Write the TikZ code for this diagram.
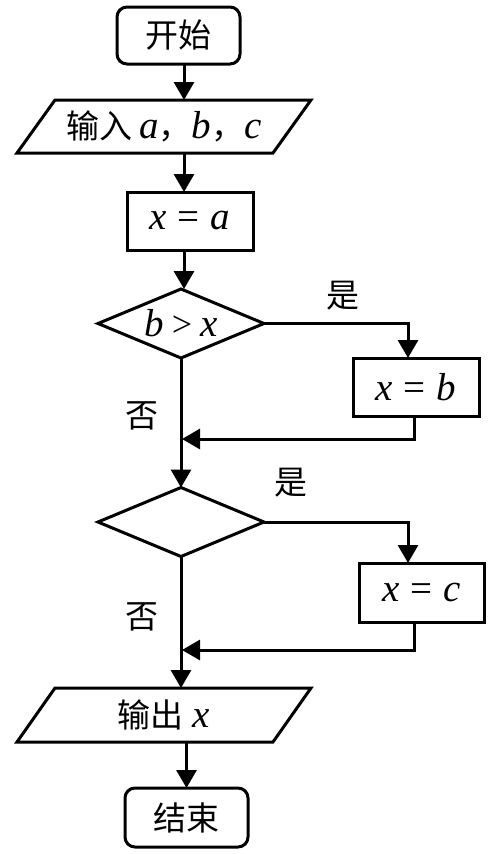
\documentclass[tikz,border=0pt]{standalone}
\usepackage{fontspec}
\setmainfont{Liberation Serif}
\newfontfamily\cjk{Noto Sans CJK SC}
\usetikzlibrary{arrows.meta}
\newcommand{\zhf}{\cjk\fontsize{33}{38}\selectfont}
\newcommand{\ltf}{\fontsize{39}{44}\selectfont}
\newcommand{\gp}{\hspace{11pt}}
\tikzset{
  base/.style={inner sep=0pt,outer sep=0pt,line width=3pt,font=\ltf},
  term/.style={base,draw,rounded corners=10pt,minimum width=123pt,minimum height=57pt},
  proc/.style={base,draw,minimum width=126pt,minimum height=58pt},
  io/.style={base,minimum width=294pt,minimum height=53pt},
  dec/.style={base,minimum width=166pt,minimum height=69pt},
  lbl/.style={inner sep=0pt,font=\zhf},
  arr/.style={line width=3pt,-{Triangle[length=18pt,width=20pt]}},
  ln/.style={line width=3pt}
}
\begin{document}
\begin{tikzpicture}[x=1pt,y=-1pt]
\useasboundingbox (0,0) rectangle (496,854);
\node[term] (start) at (178.5,35.5) {\zhf 开始};
\node[io] (in) at (164,126.5) {{\zhf 输入}\,\textit{a}{\zhf ，}\textit{b}{\zhf ，}\textit{c}};
\draw[ln] ([xshift=38pt]in.north west) -- (in.north east) -- ([xshift=-38pt]in.south east) -- (in.south west) -- cycle;
\node[proc] (xa) at (190,221) {\textit{x}\gp=\gp\textit{a}};
\node[dec] (d1) at (181,323.5) {\textit{b}\hspace{8pt}{\fontsize{36}{40}\selectfont>}\hspace{8pt}\textit{x}};
\draw[ln] (d1.north) -- (d1.east) -- (d1.south) -- (d1.west) -- cycle;
\node[proc] (xb) at (416,387) {\textit{x}\gp=\gp\textit{b}};
\node[dec] (d2) at (181,522) {};
\draw[ln] (d2.north) -- (d2.east) -- (d2.south) -- (d2.west) -- cycle;
\node[proc,minimum width=125pt,minimum height=59pt] (xc) at (421.5,592.5) {\textit{x}\gp=\gp\textit{c}};
\node[io,minimum height=54pt] (out) at (164,715) {{\zhf 输出}\hspace{9pt}\textit{x}};
\draw[ln] ([xshift=38pt]out.north west) -- (out.north east) -- ([xshift=-38pt]out.south east) -- (out.south west) -- cycle;
\node[term,minimum height=59pt] (end) at (186.5,817.5) {\zhf 结束};

\node[lbl] (y1) at (343,296) {是};
\node[lbl] (n1) at (142,416) {否};
\node[lbl] (y2) at (291,483) {是};
\node[lbl] (n2) at (142,617) {否};

\coordinate (cx) at (184,0);
\coordinate (rx) at (408,0);
\coordinate (bx) at (414,0);
\coordinate (j1) at (182,439);
\coordinate (j2) at (182,650);

\draw[arr] (start.south -| cx) -- (in.north -| cx);
\draw[arr] (in.south -| cx) -- (xa.north -| cx);
\draw[arr] (xa.south -| cx) -- (d1.north -| cx);
\draw[arr] (d1.east) -| (xb.north -| rx);
\draw[arr] (xb.south -| bx) |- (j1);
\draw[arr] (d1.south) -- (d2.north);
\draw[arr] (d2.east) -| (xc.north -| rx);
\draw[arr] (xc.south -| bx) |- (j2);
\draw[arr] (d2.south) -- (out.north -| d2.south);
\draw[arr] (out.south -| end.north) -- (end.north);
\end{tikzpicture}
\end{document}
